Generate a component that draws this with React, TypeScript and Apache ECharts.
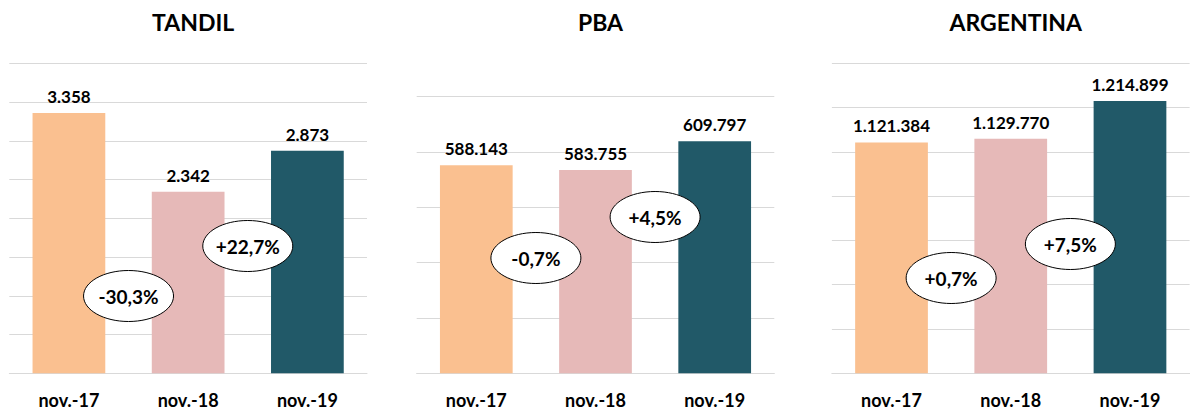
import React, { useEffect, useRef } from "react";
import * as echarts from "echarts";

const categories = ["nov.-17", "nov.-18", "nov.-19"];
const panelTitles = ["TANDIL", "PBA", "ARGENTINA"];
const tandilValues = [3358, 2342, 2873];
const pbaValues = [588143, 583755, 609797];
const argentinaValues = [1121384, 1129770, 1214899];
const axisMin = [0, 400000, 600000];
const axisMax = [4000, 650000, 1300000];
const axisInterval = [500, 50000, 100000];

const barColors = ["#FAC090", "#E6B9B8", "#215968"];
const FONT = "Lato, 'Open Sans', sans-serif";

const grids = [
  { left: 9.3, top: 63.3, width: 357.7, height: 310 },
  { left: 416.7, top: 96.7, width: 357.6, height: 276.6 },
  { left: 831.9, top: 63.3, width: 357.7, height: 310 },
];
// vertical centre (px) of the change bubbles in each panel
const bubbleY = [
  [296, 246],
  [258, 217],
  [278, 244],
];

const fmtThousands = (v: number) =>
  String(Math.round(v)).replace(/\B(?=(\d{3})+(?!\d))/g, ".");

const fmtChange = (a: number, b: number) => {
  const p = (b / a - 1) * 100;
  const s = p.toFixed(1).replace(".", ",");
  return (p >= 0 ? "+" : "") + s + "%";
};

export default function App() {
  const ref = useRef<HTMLDivElement>(null);
  useEffect(() => {
    if (!ref.current) return;
    const chart = echarts.init(ref.current, null, { renderer: "svg" });
    const all = [tandilValues, pbaValues, argentinaValues];

    const graphic: any[] = [];
    all.forEach((vals, i) => {
      const g = grids[i];
      for (let j = 0; j < 2; j++) {
        const cx = g.left + (g.width * (j + 1)) / 3;
        const cy = bubbleY[i][j];
        graphic.push({
          type: "ellipse",
          z: 100,
          shape: { cx, cy, rx: 45, ry: 25.5 },
          style: { fill: "#ffffff", stroke: "#000000", lineWidth: 1 },
        });
        graphic.push({
          type: "text",
          z: 101,
          style: {
            text: fmtChange(vals[j], vals[j + 1]),
            x: cx,
            y: cy,
            align: "center",
            verticalAlign: "middle",
            fontSize: 19,
            fontWeight: "bold",
            fontFamily: FONT,
            fill: "#000000",
          },
        });
      }
    });

    chart.setOption({
      animation: false,
      backgroundColor: "#ffffff",
      title: panelTitles.map((t, i) => ({
        text: t,
        left: grids[i].left + grids[i].width / 2,
        top: 5,
        textAlign: "center",
        textStyle: {
          fontSize: 23,
          fontWeight: "bold",
          fontFamily: FONT,
          color: "#000000",
        },
      })),
      grid: grids.map((g) => ({ ...g, containLabel: false })),
      xAxis: grids.map((_, i) => ({
        type: "category",
        gridIndex: i,
        data: categories,
        axisTick: { show: false },
        axisLine: { show: true, lineStyle: { color: "#D9D9D9", width: 1 } },
        axisLabel: {
          margin: 18,
          fontSize: 18,
          fontWeight: "bold",
          fontFamily: FONT,
          color: "#000000",
        },
      })),
      yAxis: grids.map((_, i) => ({
        type: "value",
        gridIndex: i,
        min: axisMin[i],
        max: axisMax[i],
        interval: axisInterval[i],
        axisLabel: { show: false },
        axisLine: { show: false },
        axisTick: { show: false },
        splitLine: { show: true, lineStyle: { color: "#D9D9D9", width: 1 } },
      })),
      series: all.map((vals, i) => ({
        type: "bar",
        xAxisIndex: i,
        yAxisIndex: i,
        barWidth: "61%",
        data: vals.map((v, j) => ({ value: v, itemStyle: { color: barColors[j] } })),
        label: {
          show: true,
          position: "top",
          distance: 8,
          formatter: (p: any) => fmtThousands(p.value),
          fontSize: 17,
          fontWeight: "bold",
          fontFamily: FONT,
          color: "#000000",
        },
      })),
      graphic,
    });
    return () => chart.dispose();
  }, []);
  return (
    <div
      ref={ref}
      style={{ position: "fixed", left: 0, top: 0, width: 1190, height: 410 }}
    />
  );
}
